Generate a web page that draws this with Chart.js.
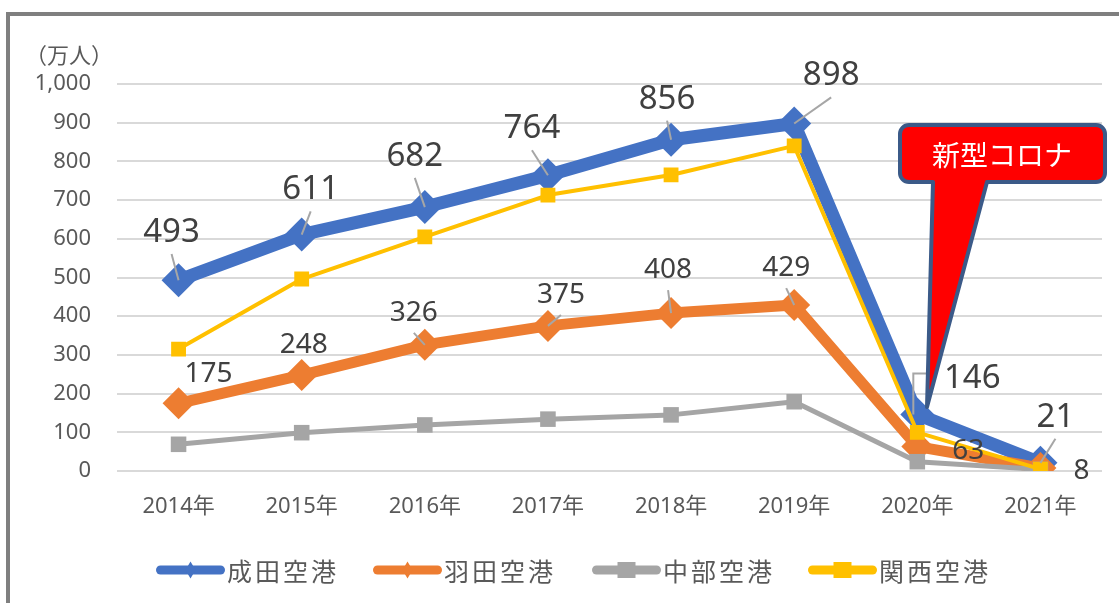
<!DOCTYPE html>
<html>
<head>
<meta charset="utf-8">
<script src="https://cdn.jsdelivr.net/npm/chart.js@4"></script>
<style>
  body{margin:0;overflow:hidden;background:#fff;}
  .wrap{position:absolute;left:0;top:0;width:1119px;height:603px;}
  .frame{position:absolute;left:6px;top:12px;width:2000px;height:2000px;border:4px solid #7f7f7f;pointer-events:none;}
</style>
</head>
<body>
<div class="wrap">
  <canvas id="c" width="1119" height="603"></canvas>
  <div class="frame"></div>
</div>
<script>
const years = ['2014年','2015年','2016年','2017年','2018年','2019年','2020年','2021年'];
const narita = [493, 611, 682, 764, 856, 898, 146, 21];
const haneda = [175, 248, 326, 375, 408, 429, 63, 8];
const chubu = [69, 99, 119, 134, 145, 179, 24, 4];
const kansai = [315, 496, 605, 713, 765, 840, 100, 5];

// label offsets from the point (px) and leader line flags
const naritaLabelPos = [[-7,-50],[9,-47],[-10,-53],[-16,-49],[-4,-43],[37,-50],[55,-38],[15,-48]];
const naritaLeader = [1,1,1,1,1,1,2,1];
const hanedaLabelPos = [[30,-31],[2,-32],[-11,-34],[13,-33],[-3,-45],[-8,-39],[51,2],[41,1]];
const hanedaLeader = [0,0,1,1,1,1,0,0];

const numFont = '"Noto Sans", "Noto Sans CJK JP", sans-serif';
const jpFont = '"Noto Sans CJK JP", "Noto Sans", sans-serif';

const extras = {
  id: 'extras',
  afterDatasetsDraw(chart) {
    const ctx = chart.ctx;
    const specs = [
      {ds: 0, pos: naritaLabelPos, lead: naritaLeader, size: 33},
      {ds: 1, pos: hanedaLabelPos, lead: hanedaLeader, size: 28}
    ];
    ctx.save();
    // leader lines
    ctx.strokeStyle = '#a6a6a6';
    ctx.lineWidth = 2;
    specs.forEach(s => {
      const pts = chart.getDatasetMeta(s.ds).data;
      pts.forEach((p, i) => {
        const lx = p.x + s.pos[i][0], ly = p.y + s.pos[i][1];
        const h = s.size * 0.36;
        ctx.beginPath();
        if (s.lead[i] === 1) {
          ctx.moveTo(lx, ly + h + 12);
          ctx.lineTo(p.x, p.y);
        } else if (s.lead[i] === 2) {
          ctx.moveTo(lx - 46, ly - 3);
          ctx.lineTo(p.x - 4, ly - 3);
          ctx.lineTo(p.x - 4, p.y);
        } else return;
        ctx.stroke();
      });
    });
    // labels
    ctx.fillStyle = '#404040';
    ctx.textAlign = 'center';
    ctx.textBaseline = 'alphabetic';
    specs.forEach(s => {
      const pts = chart.getDatasetMeta(s.ds).data;
      ctx.font = s.size + 'px ' + numFont;
      pts.forEach((p, i) => {
        const v = chart.data.datasets[s.ds].data[i];
        ctx.fillText(String(v), p.x + s.pos[i][0], p.y + s.pos[i][1] + s.size * 0.357);
      });
    });
    ctx.restore();
  },
  afterDraw(chart) {
    const ctx = chart.ctx;
    ctx.save();
    // axis unit
    ctx.fillStyle = '#595959';
    ctx.font = '22px ' + jpFont;
    ctx.textAlign = 'center';
    ctx.textBaseline = 'middle';
    ctx.fillText('（万人）', 69, 55);

    // callout
    const L = 900, R = 1105, T = 125, B = 182, r = 9;
    const tipX = 927, tipY = 407;
    ctx.beginPath();
    ctx.moveTo(L + r, T);
    ctx.lineTo(R - r, T);
    ctx.arcTo(R, T, R, T + r, r);
    ctx.lineTo(R, B - r);
    ctx.arcTo(R, B, R - r, B, r);
    ctx.lineTo(987, B);
    ctx.lineTo(tipX, tipY);
    ctx.lineTo(933, B);
    ctx.lineTo(L + r, B);
    ctx.arcTo(L, B, L, B - r, r);
    ctx.lineTo(L, T + r);
    ctx.arcTo(L, T, L + r, T, r);
    ctx.closePath();
    ctx.fillStyle = '#ff0000';
    ctx.fill();
    ctx.lineJoin = 'round';
    ctx.lineWidth = 4;
    ctx.strokeStyle = '#3b5a88';
    ctx.stroke();
    ctx.fillStyle = '#ffffff';
    ctx.font = '28px ' + jpFont;
    ctx.fillText('新型コロナ', 1002, 155);

    // legend
    const lx = [156, 373, 592, 808];
    const ly = 570;
    chart.data.datasets.forEach((ds, i) => {
      const x0 = lx[i], x1 = x0 + 69;
      ctx.strokeStyle = ds.borderColor;
      ctx.lineWidth = 9;
      ctx.lineCap = 'round';
      ctx.beginPath();
      ctx.moveTo(x0 + 4.5, ly);
      ctx.lineTo(x1 - 4.5, ly);
      ctx.stroke();
      ctx.fillStyle = ds.borderColor;
      const cx = (x0 + x1) / 2;
      ctx.beginPath();
      if (ds.pointStyle === 'rectRot') {
        ctx.moveTo(cx, ly - 8.5); ctx.lineTo(cx + 5, ly); ctx.lineTo(cx, ly + 8.5); ctx.lineTo(cx - 5, ly);
      } else {
        ctx.rect(cx - 9, ly - 8, 18, 16);
      }
      ctx.fill();
      ctx.fillStyle = '#595959';
      ctx.font = '25px ' + jpFont;
      ctx.letterSpacing = '3px';
      ctx.textAlign = 'left';
      ctx.fillText(ds.label, x1 + 2, ly + 1);
      ctx.letterSpacing = '0px';
    });
    ctx.restore();
  }
};

new Chart(document.getElementById('c'), {
  type: 'line',
  data: {
    labels: years,
    datasets: [
      {label: '成田空港', data: narita, borderColor: '#4472c4', backgroundColor: '#4472c4', borderWidth: 13,
       pointStyle: 'rectRot', pointRadius: 17, pointBorderWidth: 0, pointBackgroundColor: '#4472c4', order: 4},
      {label: '羽田空港', data: haneda, borderColor: '#ed7d31', backgroundColor: '#ed7d31', borderWidth: 11,
       pointStyle: 'rectRot', pointRadius: 16, pointBorderWidth: 0, pointBackgroundColor: '#ed7d31', order: 3},
      {label: '中部空港', data: chubu, borderColor: '#a5a5a5', backgroundColor: '#a5a5a5', borderWidth: 5,
       pointStyle: 'rect', pointRadius: 11, pointBorderWidth: 0, pointBackgroundColor: '#a5a5a5', order: 2},
      {label: '関西空港', data: kansai, borderColor: '#ffc000', backgroundColor: '#ffc000', borderWidth: 4,
       pointStyle: 'rect', pointRadius: 10.5, pointBorderWidth: 0, pointBackgroundColor: '#ffc000', order: 1}
    ]
  },
  options: {
    responsive: false,
    animation: false,
    devicePixelRatio: 1,
    elements: {line: {borderJoinStyle: 'round', borderCapStyle: 'round', tension: 0}},
    layout: {padding: {top: 84, right: 17, bottom: 72, left: 0}},
    plugins: {legend: {display: false}, tooltip: {enabled: false}},
    scales: {
      x: {
        offset: true,
        grid: {display: false, drawTicks: false},
        border: {display: false},
        ticks: {color: '#595959', font: {size: 22, family: numFont}, padding: 23, maxRotation: 0},
        afterFit: s => { s.height = 60; }
      },
      y: {
        min: 0, max: 1000,
        grid: {color: '#d9d9d9', lineWidth: 2, drawTicks: false},
        border: {display: false},
        ticks: {stepSize: 100, color: '#595959', font: {size: 22, family: numFont}, padding: 26,
                callback: v => v.toLocaleString('en-US')},
        afterFit: s => { s.width = 117; }
      }
    }
  },
  plugins: [extras]
});
</script>
</body>
</html>
